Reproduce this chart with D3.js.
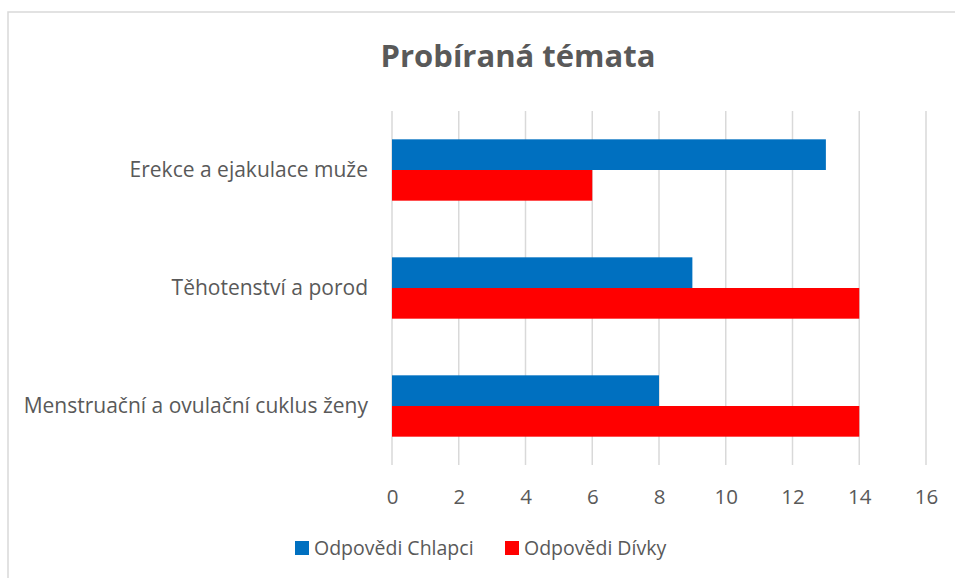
<!DOCTYPE html>
<html><head><meta charset="utf-8">
<script src="https://cdn.jsdelivr.net/npm/d3@7"></script>
<style>body{margin:0;background:#fff;} svg{display:block;}</style>
</head><body>
<script>
const categories = ["Erekce a ejakulace muže", "Těhotenství a porod", "Menstruační a ovulační cuklus ženy"];
const seriesNames = ["Odpovědi Chlapci", "Odpovědi Dívky"];
const chlapci = [13, 9, 8];
const divky = [6, 14, 14];
const ticks = [0, 2, 4, 6, 8, 10, 12, 14, 16];
const colors = ["#0070C0", "#FF0000"];
const title = "Probíraná témata";

const W = 955, H = 578;
const font = "'Open Sans', sans-serif";
const svg = d3.select("body").append("svg").attr("width", W).attr("height", H);

svg.append("rect").attr("x", 8).attr("y", 12).attr("width", W + 10).attr("height", H + 10)
  .attr("fill", "#fff").attr("stroke", "#d9d9d9").attr("stroke-width", 1.5);

const x = d3.scaleLinear().domain([0, 16]).range([392, 926]);
const y = d3.scaleBand().domain(categories).range([111, 465]).paddingInner(0.48).paddingOuter(0.24);
const inner = d3.scaleBand().domain(seriesNames).range([0, y.bandwidth()]);

// gridlines
svg.append("g").selectAll("line").data(ticks).join("line")
  .attr("x1", d => x(d)).attr("x2", d => x(d)).attr("y1", 111).attr("y2", 465)
  .attr("stroke", "#d9d9d9").attr("stroke-width", 1.5);

const data = categories.map((c, i) => ({cat: c, vals: [chlapci[i], divky[i]]}));
const g = svg.append("g");
data.forEach(d => {
  d.vals.forEach((v, j) => {
    g.append("rect")
      .attr("x", x(0)).attr("y", y(d.cat) + inner(seriesNames[j]))
      .attr("width", x(v) - x(0)).attr("height", inner.bandwidth())
      .attr("fill", colors[j]);
  });
});

// x axis labels
const xAxis = d3.axisBottom(x).tickValues(ticks).tickSize(0).tickPadding(0);
const ax = svg.append("g").attr("transform", "translate(0,489)").call(xAxis);
ax.select(".domain").remove();
ax.selectAll("text").attr("fill", "#595959").attr("font-size", 20.5).attr("font-family", font).attr("dy", "0.71em");

// y axis labels
const yAxis = d3.axisLeft(y).tickSize(0).tickPadding(24);
const ay = svg.append("g").attr("transform", `translate(${x(0)},0)`).call(yAxis);
ay.select(".domain").remove();
ay.selectAll("text").attr("fill", "#595959").attr("font-size", 21).attr("font-family", font);

svg.append("text").attr("x", 518).attr("y", 67).attr("text-anchor", "middle")
  .attr("font-size", 31).attr("font-weight", "bold").attr("fill", "#595959").attr("font-family", font)
  .text(title);

// legend
const legX = [295, 505];
seriesNames.forEach((s, i) => {
  svg.append("rect").attr("x", legX[i]).attr("y", 541).attr("width", 14).attr("height", 14).attr("fill", colors[i]);
  svg.append("text").attr("x", legX[i] + 19).attr("y", 548).attr("dy", "0.35em")
    .attr("font-size", 19.5).attr("fill", "#595959").attr("font-family", font).text(s);
});
</script>
</body></html>
